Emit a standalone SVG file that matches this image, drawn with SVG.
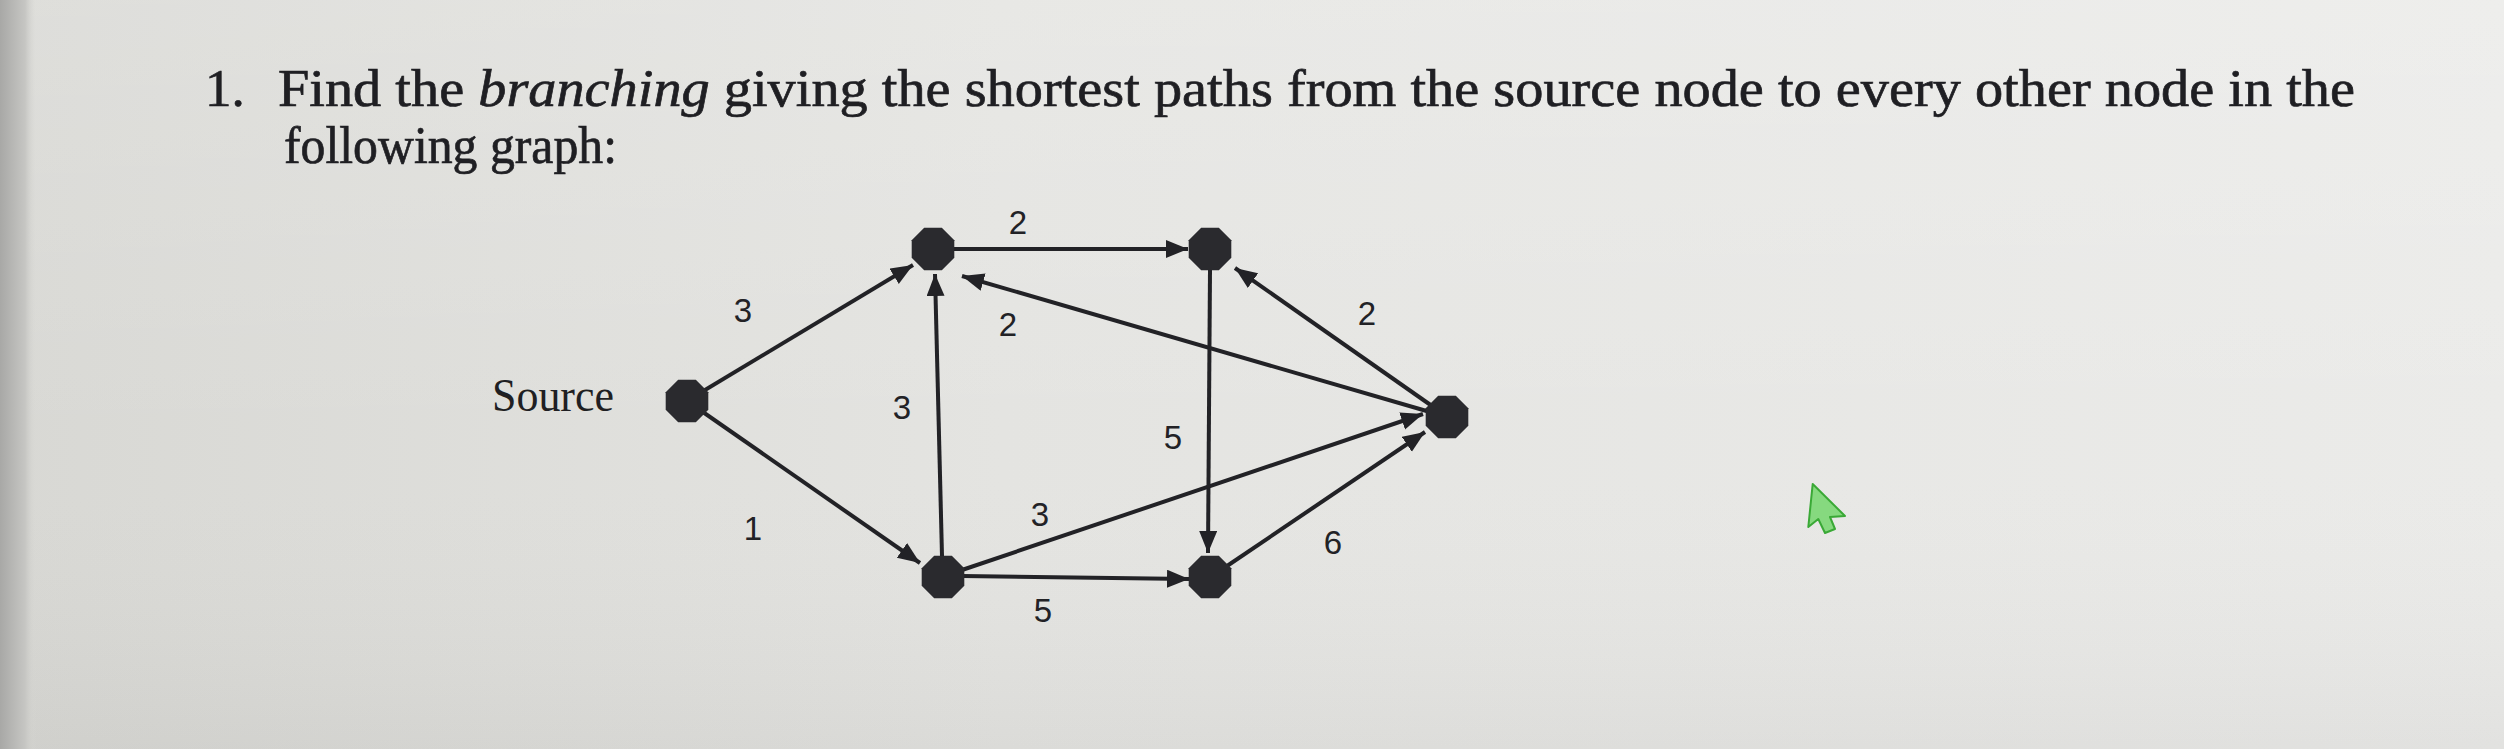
<svg xmlns="http://www.w3.org/2000/svg" width="2504" height="749" viewBox="0 0 2504 749">
<defs>
<linearGradient id="bg" x1="0" y1="0" x2="1" y2="0">
<stop offset="0" stop-color="#d8d8d4"/>
<stop offset="0.4" stop-color="#e4e4e1"/>
<stop offset="1" stop-color="#ebebe9"/>
</linearGradient>
<linearGradient id="edge" x1="0" y1="0" x2="1" y2="0">
<stop offset="0" stop-color="#a8a8a6"/>
<stop offset="0.7" stop-color="#c6c6c3"/>
<stop offset="1" stop-color="#d8d8d4" stop-opacity="0"/>
</linearGradient>
<linearGradient id="vshade" x1="0" y1="0" x2="0" y2="1">
<stop offset="0" stop-color="#ffffff" stop-opacity="0.15"/>
<stop offset="0.6" stop-color="#ffffff" stop-opacity="0"/>
<stop offset="1" stop-color="#000000" stop-opacity="0.04"/>
</linearGradient>
<marker id="arr" markerUnits="userSpaceOnUse" markerWidth="24" markerHeight="20" refX="22" refY="9" orient="auto">
<path d="M0,0 L22,9 L0,18 z" fill="#222226"/>
</marker>
<polygon id="oct" points="21.3,8.8 8.8,21.3 -8.8,21.3 -21.3,8.8 -21.3,-8.8 -8.8,-21.3 8.8,-21.3 21.3,-8.8"/>
</defs>
<style>
.q{font-family:"Liberation Serif","Times New Roman",serif;font-size:53px;fill:#1f1f23;stroke:#1f1f23;stroke-width:0.7}
.src{font-family:"Liberation Serif","Times New Roman",serif;font-size:46px;fill:#1f1f23}
.lbl{font-family:"Liberation Sans",Arial,sans-serif;font-size:33px;fill:#222226;text-anchor:middle}
.e{stroke:#222226;stroke-width:4;fill:none;marker-end:url(#arr)}
.n{fill:#2a2a2e}
</style>
<rect x="0" y="0" width="2504" height="749" fill="url(#bg)"/>
<rect x="0" y="0" width="2504" height="749" fill="url(#vshade)"/>
<rect x="0" y="0" width="36" height="749" fill="url(#edge)"/>

<g id="question">
<text class="q" x="205" y="106">1.</text>
<text class="q" x="278" y="106" textLength="2077" lengthAdjust="spacingAndGlyphs">Find the <tspan font-style="italic">branching</tspan> giving the shortest paths from the source node to every other node in the</text>
<text class="q" x="284" y="163" textLength="333" lengthAdjust="spacingAndGlyphs">following graph:</text>
</g>

<g id="connectors">
<line class="e" x1="700" y1="393" x2="913" y2="265"/>
<line class="e" x1="700" y1="410" x2="920" y2="563"/>
<line class="e" x1="942" y1="556" x2="935" y2="274"/>
<line class="e" x1="954" y1="249" x2="1188" y2="249"/>
<line class="e" x1="1430" y1="412" x2="962" y2="276"/>
<line class="e" x1="1432" y1="406" x2="1235" y2="268"/>
<line class="e" x1="1210" y1="270" x2="1208" y2="553"/>
<line class="e" x1="962" y1="570" x2="1423" y2="414"/>
<line class="e" x1="962" y1="576" x2="1189" y2="579"/>
<line class="e" x1="1227" y1="566" x2="1425" y2="432"/>
</g>

<g id="edge-labels">
<text class="lbl" x="743" y="322">3</text>
<text class="lbl" x="753" y="540">1</text>
<text class="lbl" x="902" y="419">3</text>
<text class="lbl" x="1018" y="234">2</text>
<text class="lbl" x="1008" y="336">2</text>
<text class="lbl" x="1173" y="449">5</text>
<text class="lbl" x="1040" y="526">3</text>
<text class="lbl" x="1043" y="622">5</text>
<text class="lbl" x="1367" y="325">2</text>
<text class="lbl" x="1333" y="554">6</text>
</g>

<g id="node-source"><use href="#oct" class="n" x="687" y="401"/><text class="src" x="492" y="411" textLength="122" lengthAdjust="spacingAndGlyphs">Source</text></g>
<g id="node-a"><use href="#oct" class="n" x="933" y="249"/></g>
<g id="node-b"><use href="#oct" class="n" x="1210" y="249"/></g>
<g id="node-c"><use href="#oct" class="n" x="1447" y="417"/></g>
<g id="node-d"><use href="#oct" class="n" x="943" y="577"/></g>
<g id="node-e"><use href="#oct" class="n" x="1210" y="577"/></g>

<g id="cursor">
<polygon points="1812.7,484 1808.3,527 1818.3,519 1825,533 1835,529 1830,517 1845,516" fill="#86d97f" stroke="#3aa936" stroke-width="2" stroke-linejoin="round"/>
</g>
</svg>
